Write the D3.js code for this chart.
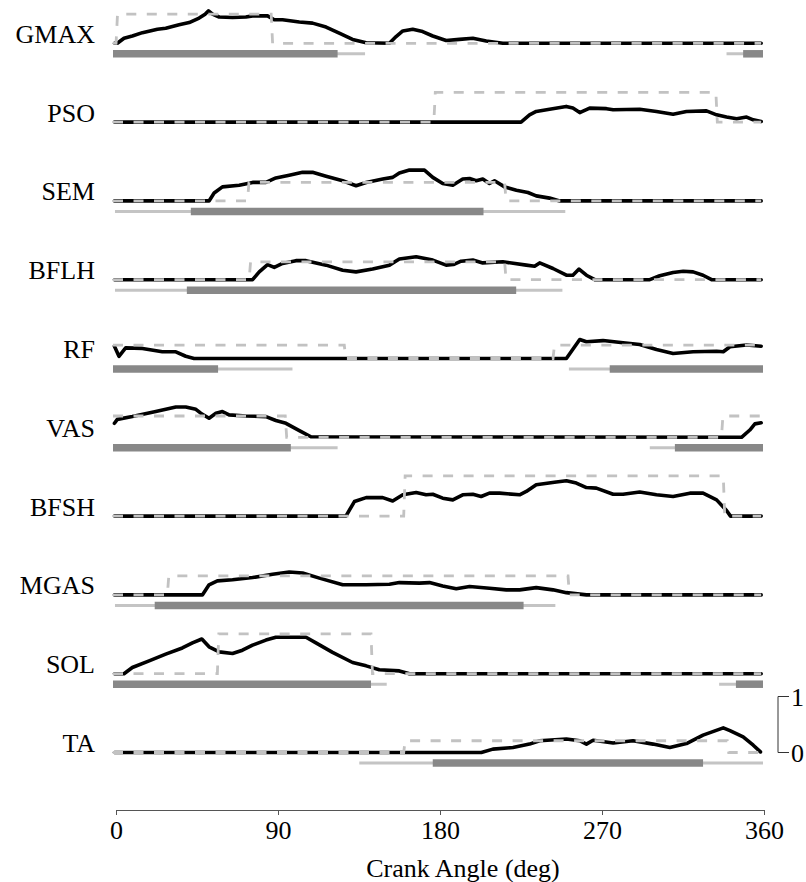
<!DOCTYPE html>
<html><head><meta charset="utf-8">
<script src="https://cdn.jsdelivr.net/npm/d3@7"></script>
<style>body{margin:0;background:#fff}svg{display:block}text{font-family:"Liberation Serif","Times New Roman",serif !important}</style>
</head><body><svg id="c" width="806" height="882"></svg>
<script>
// ---------- DATA ----------
const muscles = ["GMAX","PSO","SEM","BFLH","RF","VAS","BFSH","MGAS","SOL","TA"];
const xTicks = [0,90,180,270,360];
const xLabel = "Crank Angle (deg)";
const scaleBarLabels = ["1","0"];

// activation curves: [crank angle (deg), activation 0..1]
const gmaxAct = [[0,0],[2.4,0],[6.1,0.09],[10.7,0.13],[16.3,0.19],[24.6,0.25],[29.2,0.27],[36.6,0.33],[42.2,0.37],[47.7,0.45],[51,0.52],[52.9,0.58],[55.1,0.52],[58.8,0.47],[66.2,0.46],[73.6,0.47],[77.3,0.49],[85.6,0.49],[89.3,0.42],[93.9,0.42],[103.2,0.38],[110.5,0.36],[118,0.29],[125.3,0.18],[132.7,0.07],[140.2,0.01],[153.1,0],[156.8,0.12],[160.5,0.22],[166,0.25],[171.5,0.21],[177.1,0.13],[184.5,0.05],[191.9,0.07],[199.3,0.09],[206.7,0.04],[215.9,0],[359,0]];
const psoAct = [[0,0],[226,0],[230.7,0.13],[234.4,0.19],[241.8,0.23],[251,0.28],[254.7,0.25],[258.5,0.17],[264,0.25],[273.3,0.24],[277,0.22],[291.7,0.23],[301,0.19],[310.2,0.14],[317.6,0.19],[328.7,0.2],[334.3,0.13],[339.8,0.09],[345.4,0.06],[350.9,0.09],[354.6,0.04],[359,0.01]];
const semAct = [[0,0],[53.2,0],[56,0.14],[60.6,0.25],[69.9,0.28],[77.3,0.33],[84.7,0.33],[90.2,0.41],[97.6,0.46],[105,0.51],[110.5,0.51],[118,0.44],[127.2,0.36],[134.6,0.27],[140.2,0.33],[149.4,0.39],[154.9,0.42],[158.6,0.5],[164.2,0.55],[172.5,0.55],[177.1,0.42],[182.6,0.31],[188.2,0.28],[193.7,0.39],[197.5,0.4],[201.2,0.36],[204.8,0.39],[208.5,0.31],[211.3,0.36],[216.9,0.25],[223.4,0.19],[229.8,0.15],[234.4,0.09],[241.8,0.05],[247.4,0],[359,0]];
const bflhAct = [[0,0],[77.3,0],[81,0.14],[85.6,0.27],[89.3,0.22],[93.9,0.29],[101.3,0.34],[106.9,0.34],[118,0.26],[127.2,0.17],[134.6,0.14],[143.8,0.19],[153.1,0.26],[158.6,0.37],[167.9,0.41],[177.1,0.35],[184.5,0.26],[188.5,0.27],[192.8,0.33],[199.3,0.35],[204.8,0.3],[215.9,0.32],[228.9,0.26],[233.5,0.24],[236.3,0.3],[243.7,0.2],[251.1,0.08],[254.7,0.08],[258.1,0.19],[262.2,0.08],[266.8,0],[297.3,0],[302.8,0.07],[310.2,0.13],[315.8,0.15],[321.3,0.14],[326.8,0.08],[331.5,0],[359,0]];
const rfAct = [[0,0.22],[3.3,0.04],[7,0.19],[16.3,0.18],[27.3,0.12],[34.8,0.12],[40.3,0.04],[44.9,0],[251.1,0],[258.5,0.34],[262.2,0.3],[271.4,0.32],[282.5,0.28],[291.7,0.25],[301,0.16],[310.2,0.09],[321.3,0.12],[334.3,0.13],[338,0.12],[341.7,0.21],[350.9,0.24],[359,0.22]];
const vasAct = [[0,0.25],[2.4,0.32],[10.7,0.37],[23.7,0.46],[34.8,0.54],[40.3,0.54],[45.9,0.5],[48.6,0.43],[53.2,0.34],[57,0.43],[60.6,0.46],[64.3,0.4],[73.6,0.38],[84.7,0.37],[90.2,0.3],[95.8,0.25],[103.2,0.12],[109.6,0.01],[348.1,0],[352.7,0.13],[355.5,0.24],[359,0.26]];
const bfshAct = [[0,0],[129,0],[133.7,0.26],[140.2,0.33],[149.4,0.33],[154.9,0.27],[160.5,0.38],[167.9,0.42],[173.4,0.38],[177.1,0.39],[182.6,0.32],[188.2,0.29],[193.7,0.38],[199.3,0.39],[203.9,0.35],[208.5,0.41],[214.1,0.41],[225.2,0.38],[228.9,0.44],[234.4,0.56],[245.5,0.61],[251.1,0.63],[256.6,0.59],[262.2,0.51],[267.7,0.5],[277,0.39],[282.5,0.39],[291.7,0.43],[301,0.38],[310.2,0.35],[319.5,0.41],[326.8,0.41],[334.3,0.29],[339.8,0.1],[342,0],[359,0]];
const mgasAct = [[0,0],[49.5,0],[53.2,0.18],[57.8,0.25],[66.2,0.27],[77.3,0.31],[88.4,0.37],[97.6,0.41],[105,0.39],[114.3,0.3],[127.2,0.18],[140.2,0.18],[153.1,0.19],[158.6,0.22],[169.7,0.21],[175.3,0.22],[182.6,0.16],[190.1,0.11],[197.5,0.15],[208.5,0.12],[217.8,0.09],[225.2,0.09],[234.4,0.13],[243.7,0.09],[251.1,0.04],[262.2,0],[359,0]];
const solAct = [[0,0],[6.1,0],[10.7,0.11],[20,0.23],[29.2,0.35],[38.4,0.46],[44,0.55],[49.2,0.62],[53.2,0.48],[58.8,0.39],[66.2,0.36],[71.7,0.42],[77.3,0.51],[84.7,0.6],[90.2,0.65],[106.9,0.65],[112.4,0.55],[121.6,0.38],[132.7,0.2],[140.2,0.14],[147.5,0.07],[158.6,0.05],[164.2,0],[359,0]];
const taAct = [[0,0],[204,0],[210.4,0.06],[221.5,0.09],[230.7,0.15],[236.3,0.21],[251.1,0.24],[258.5,0.21],[262.2,0.15],[265.9,0.22],[277,0.17],[288,0.21],[299.1,0.15],[308.4,0.09],[317.6,0.16],[326.8,0.31],[338,0.44],[341.7,0.39],[349,0.28],[354.6,0.13],[358.6,0.01]];
const activations = [gmaxAct,psoAct,semAct,bflhAct,rfAct,vasAct,bfshAct,mgasAct,solAct,taAct];

// excitation pattern (dashed): on-intervals and level
const excitationOn = [[[1.7,87.6]],[[177.7,333.9]],[[74.5,216.9]],[[75.4,216.9]],[[0,128.1],[243.7,359]],[[0,95.4],[337,359]],[[161,338]],[[30.1,252]],[[57.8,142.9]],[[161,340.2]]];
const excitationLevel = [0.52,0.53,0.33,0.32,0.24,0.38,0.72,0.34,0.71,0.21];

// EMG on-ranges: thin light bar (range) and thick dark bar (mean)
const emgRange = [[[0,139.6],[339.8,360]],[],[[1.1,250.5]],[[1.1,248.9]],[[0,99.4],[252.5,360]],[[0,124.4],[297.3,360]],[],[[1.1,245]],[[0,151.6],[335.7,360]],[[136.4,360]]];
const emgMean = [[[0,124.4],[349,360]],[],[[43.1,205.2]],[[40.9,223.3]],[[0,58.2],[275.1,360]],[[0,98.5],[311.2,360]],[],[[23.1,227.4]],[[0,142.9],[345,360]],[[177.1,326.8]]];

// ---------- DRAW ----------
const svg = d3.select("#c");
const x = d3.scaleLinear().domain([0,360]).range([113,763]);
const xAxisScale = d3.scaleLinear().domain([0,360]).range([116,764]);
const row = d3.scaleLinear().domain([0,9]).range([43.3,752.5]);
const unit = 56; // px per activation unit
const FONT = 26;
const SERIF = "Liberation Serif, Times New Roman, serif";

function stepPoints(intervals, level){
  const pts = [];
  let cur = 0;
  let first = true;
  intervals.forEach(([a,b])=>{
    if (a <= 0.01){ pts.push([0,level]); }
    else {
      if (first) pts.push([0,0]);
      pts.push([a,0]); pts.push([a+0.8,level]);
    }
    first = false;
    if (b >= 359){ pts.push([359,level]); cur = 359; }
    else { pts.push([b,level]); pts.push([b+0.8,0]); cur = b+0.8; }
  });
  if (cur < 359) pts.push([359,0]);
  return pts;
}

muscles.forEach((m,i)=>{
  const y0 = row(i);
  const y = d3.scaleLinear().domain([0,1]).range([y0, y0-unit]);
  const g = svg.append("g");
  const by = y0 + 10.5;
  emgRange[i].forEach(([a,b])=>{
    g.append("line").attr("x1",x(a)).attr("x2",x(b)).attr("y1",by).attr("y2",by)
      .attr("stroke","#c4c4c4").attr("stroke-width",3);
  });
  emgMean[i].forEach(([a,b])=>{
    g.append("line").attr("x1",x(a)).attr("x2",x(b)).attr("y1",by).attr("y2",by)
      .attr("stroke","#888888").attr("stroke-width",7.5);
  });
  const line = d3.line().x(d=>x(d[0])).y(d=>y(d[1]));
  g.append("path").attr("d", line(activations[i].map(d=>[Math.max(d[0],0.8),d[1]])))
    .attr("fill","none").attr("stroke","#000").attr("stroke-width",3.6)
    .attr("stroke-linejoin","round").attr("stroke-linecap","round");
  g.append("path").attr("d", line(stepPoints(excitationOn[i], excitationLevel[i])))
    .attr("fill","none").attr("stroke","#c2c2c2").attr("stroke-width",2.8)
    .attr("stroke-dasharray","10,10.5");
  g.append("text").attr("x",95).attr("y",y0-0.5).attr("text-anchor","end")
    .attr("font-family",SERIF).attr("font-size",FONT).attr("fill","#000").text(m);
});

// scale bar
const sy = d3.scaleLinear().domain([0,1]).range([row(9), row(9)-unit]);
svg.append("path").attr("d",`M${789},${sy(1)}H${778}V${sy(0)}H${789}`)
  .attr("fill","none").attr("stroke","#333").attr("stroke-width",1);
svg.append("text").attr("x",791).attr("y",sy(1)+9).attr("font-family",SERIF).attr("font-size",FONT).text(scaleBarLabels[0]);
svg.append("text").attr("x",791).attr("y",sy(0)+9).attr("font-family",SERIF).attr("font-size",FONT).text(scaleBarLabels[1]);

// x axis
const axisG = svg.append("g").attr("transform","translate(0,810)")
  .call(d3.axisBottom(xAxisScale).tickValues(xTicks).tickSize(5).tickSizeOuter(0).tickPadding(6));
axisG.attr("font-family",SERIF);
axisG.select(".domain").attr("stroke","#555");
axisG.selectAll(".tick line").attr("stroke","#555");
axisG.selectAll(".tick text").attr("font-size",FONT).attr("fill","#000");
svg.append("text").attr("x",463).attr("y",877).attr("text-anchor","middle")
  .attr("font-family",SERIF).attr("font-size",FONT).text(xLabel);
</script></body></html>
